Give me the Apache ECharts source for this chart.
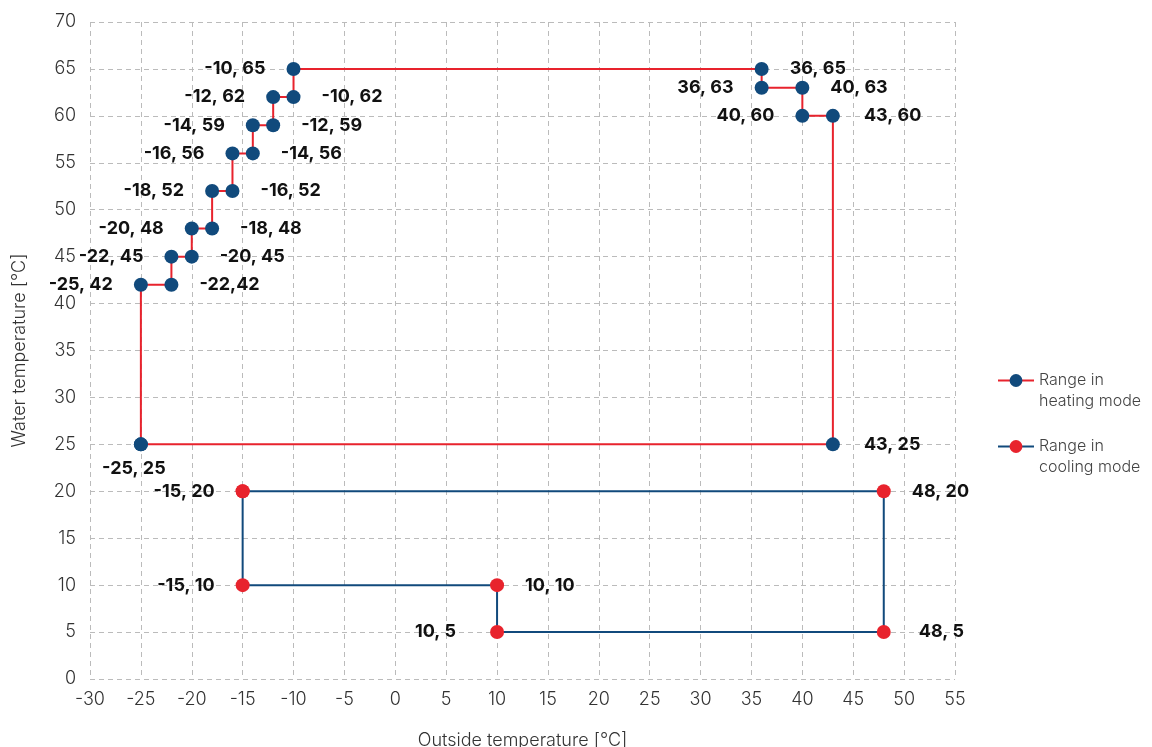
<!DOCTYPE html>
<html>
<head>
<meta charset="utf-8">
<script src="https://cdn.jsdelivr.net/npm/echarts@6/dist/echarts.min.js"></script>
<style>
  html, body { margin: 0; padding: 0; background: #fff; }
  #chart { width: 1152px; height: 747px; }
</style>
</head>
<body>
<div id="chart"></div>
<script>
// 数据
const heatingX = [-25, -25, -22, -22, -20, -20, -18, -18, -16, -16, -14, -14, -12, -12, -10, -10, 36, 36, 40, 40, 43, 43];
const heatingY = [25, 42, 42, 45, 45, 48, 48, 52, 52, 56, 56, 59, 59, 62, 62, 65, 65, 63, 63, 60, 60, 25];
const heatingText = ['-25, 25', '-25, 42', '-22,42', '-22, 45', '-20, 45', '-20, 48', '-18, 48', '-18, 52', '-16, 52', '-16, 56', '-14, 56', '-14, 59', '-12, 59', '-12, 62', '-10, 62', '-10, 65', '36, 65', '36, 63', '40, 63', '40, 60', '43, 60', '43, 25'];

const coolingX = [-15, 48, 48, 10, 10, -15];
const coolingY = [20, 20, 5, 5, 10, 10];
const coolingText = ['-15, 20', '48, 20', '48, 5', '10, 5', '10, 10', '-15, 10'];

const xTicks = { min: -30, max: 55, step: 5 };
const yTicks = { min: 0, max: 70, step: 5 };

// 标签位置
const heatingSide = ['bottom', 'left', 'right', 'left', 'right', 'left', 'right', 'left', 'right', 'left', 'right', 'left', 'right', 'left', 'right', 'left', 'right', 'left', 'right', 'left', 'right', 'right'];
const coolingSide = ['left', 'right', 'right', 'left', 'right', 'left'];

const red = '#e8232d';
const blue = '#114a7c';

function buildData(xs, ys, texts, sides) {
  const out = xs.map((x, i) => {
    const side = sides[i];
    const label = { position: side, formatter: texts[i] };
    if (side === 'bottom') {
      label.distance = 8;
      label.offset = [-7, 0];
    }
    if (texts[i] === '10, 5') label.distance = 34;
    if (texts[i] === '48, 5') label.distance = 28;
    if (texts[i] === '43, 25' || texts[i] === '43, 60') label.distance = 24;
    return { value: [x, ys[i]], label };
  });
  // 闭合
  out.push({ value: [xs[0], ys[0]], label: { show: false } });
  return out;
}

const chart = echarts.init(document.getElementById('chart'));

const labelBase = {
  show: true,
  fontFamily: 'Inter',
  fontWeight: 'bold',
  fontSize: 18,
  color: '#111',
  distance: 21
};

const tickFont = { fontFamily: 'Inter', fontWeight: 300, fontSize: 18, color: '#333' };

chart.setOption({
  animation: false,
  textStyle: { fontFamily: 'Inter' },
  grid: { left: 90, right: 197, top: 22, bottom: 68, outerBoundsMode: 'none' },
  legend: {
    orient: 'vertical',
    left: 992,
    top: 344,
    itemWidth: 36,
    itemHeight: 16,
    itemGap: 3,
    // 首行与图标对齐
    formatter: name => '\n' + name,
    textStyle: { fontFamily: 'Inter', fontWeight: 300, fontSize: 16, color: '#444', lineHeight: 21 },
    data: ['Range in\nheating mode', 'Range in\ncooling mode']
  },
  xAxis: {
    type: 'value',
    min: xTicks.min,
    max: xTicks.max,
    interval: xTicks.step,
    name: 'Outside temperature [°C]',
    nameLocation: 'middle',
    nameGap: 53,
    nameTextStyle: tickFont,
    axisLine: { show: false },
    axisTick: { show: false },
    axisLabel: Object.assign({ margin: 12 }, tickFont),
    splitLine: { show: true, lineStyle: { type: [5, 4], color: '#bbb', width: 1 } }
  },
  yAxis: {
    type: 'value',
    min: yTicks.min,
    max: yTicks.max,
    interval: yTicks.step,
    name: 'Water temperature [°C]',
    nameLocation: 'middle',
    nameGap: 61,
    nameTextStyle: tickFont,
    axisLine: { show: false },
    axisTick: { show: false },
    axisLabel: Object.assign({ margin: 14 }, tickFont),
    splitLine: { show: true, lineStyle: { type: [5, 4], color: '#bbb', width: 1 } }
  },
  series: [
    {
      name: 'Range in\nheating mode',
      type: 'line',
      data: buildData(heatingX, heatingY, heatingText, heatingSide),
      symbol: 'circle',
      symbolSize: 14,
      lineStyle: { color: red, width: 2 },
      itemStyle: { color: blue },
      label: labelBase,
      z: 3
    },
    {
      name: 'Range in\ncooling mode',
      type: 'line',
      data: buildData(coolingX, coolingY, coolingText, coolingSide),
      symbol: 'circle',
      symbolSize: 14,
      lineStyle: { color: blue, width: 2 },
      itemStyle: { color: red },
      label: labelBase,
      z: 3
    }
  ]
});
</script>
</body>
</html>
